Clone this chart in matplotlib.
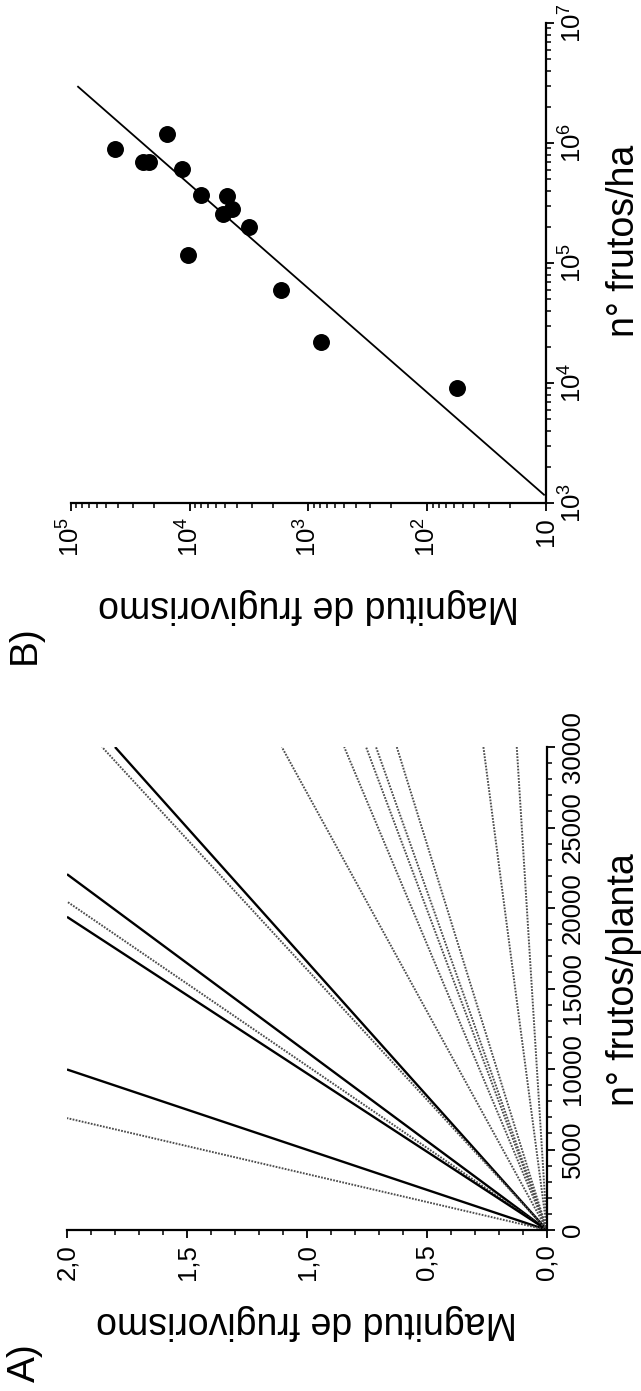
import math
import matplotlib
matplotlib.use('Agg')
import matplotlib.pyplot as plt
from matplotlib.ticker import MultipleLocator, FixedLocator, LogLocator, FuncFormatter, NullFormatter

plt.rcParams['font.family'] = ['Liberation Sans', 'DejaVu Sans']
plt.rcParams['mathtext.default'] = 'regular'

# A) rectas magnitud de frugivorismo vs nº frutos/planta (todas salen del origen)
# punto donde cada recta sale del grafico
a_frutos_fin = [22100, 20400, 19450, 9970, 6950,
                30000, 30000, 30000, 30000, 30000, 30000, 30000, 30000, 30000]
a_magnitud_fin = [2.0, 2.0, 2.0, 2.0, 2.0,
                  1.80, 1.854, 1.105, 0.845, 0.754, 0.7125, 0.626, 0.265, 0.126]
a_estilo = ['solid', 'dotted', 'solid', 'solid', 'dotted',
            'solid', 'dotted', 'dotted', 'dotted', 'dotted', 'dotted', 'dotted', 'dotted', 'dotted']

# B) magnitud de frugivorismo vs nº frutos/ha (log-log)
b_frutos_ha = [893000, 1194000, 690000, 690000, 606700, 367300, 362200,
               280500, 254700, 200400, 117500, 59160, 21830, 9078]
b_magnitud = [42660, 15560, 24550, 21830, 11610, 7960, 4810,
              4405, 5200, 3162, 10330, 1683, 776, 56.6]
b_ajuste_frutos = [1172, 2944000]
b_ajuste_magnitud = [10.4, 86700]

W, H = 641, 1391
fig = plt.figure(figsize=(W / 100, H / 100), dpi=100)

TICK_FS = 18.5
LABEL_FS = 27


def estilo_ejes(ax):
    for s in ['top', 'left']:
        ax.spines[s].set_visible(False)
    for s in ['bottom', 'right']:
        ax.spines[s].set_linewidth(1.6)
    ax.yaxis.tick_right()
    ax.yaxis.set_label_position('right')
    ax.tick_params(which='major', direction='out', length=6, width=1.3,
                   labelsize=TICK_FS, labelrotation=90, pad=4)
    ax.tick_params(which='minor', direction='out', length=3.5, width=1.1)


def fmt_pot(v, p):
    e = int(round(math.log10(v)))
    return '10' if e == 1 else '$10^{%d}$' % e


# ---------- A ----------
axA = fig.add_axes([67 / W, 1 - 1230 / H, 480 / W, 483 / H])
for f_fin, m_fin, est in zip(a_frutos_fin, a_magnitud_fin, a_estilo):
    if est == 'solid':
        axA.plot([0, m_fin], [0, f_fin], color='black', lw=1.7, solid_capstyle='butt')
    else:
        axA.plot([0, m_fin], [0, f_fin], color='0.3', lw=1.4, linestyle=(0, (0.9, 0.7)))
axA.set_xlim(2.0, 0)
axA.set_ylim(0, 30000)
estilo_ejes(axA)
axA.xaxis.set_major_locator(MultipleLocator(0.5))
axA.xaxis.set_minor_locator(MultipleLocator(0.1))
axA.xaxis.set_major_formatter(FuncFormatter(lambda v, p: f'{v:.1f}'.replace('.', ',')))
axA.yaxis.set_major_locator(MultipleLocator(5000))
axA.yaxis.set_minor_locator(MultipleLocator(1000))
axA.yaxis.set_major_formatter(FuncFormatter(lambda v, p: f'{int(v)}'))
plt.setp(axA.get_yticklabels(), va='center')
axA.set_xlabel('Magnitud de frugivorismo', fontsize=LABEL_FS, rotation=180,
               va='center', ha='center')
axA.xaxis.set_label_coords(0.5, -0.19)
axA.set_ylabel('n° frutos/planta', fontsize=LABEL_FS, rotation=90,
               va='center', ha='center')
axA.yaxis.set_label_coords(1.16, 0.518)

# ---------- B ----------
axB = fig.add_axes([70.7 / W, 1 - 503 / H, 475.3 / W, 480 / H])
axB.plot(b_ajuste_magnitud, b_ajuste_frutos, color='black', lw=1.3)
axB.scatter(b_magnitud, b_frutos_ha, s=125, color='black', zorder=3, clip_on=False)
axB.set_xscale('log')
axB.set_yscale('log')
axB.set_xlim(1e5, 10)
axB.set_ylim(1e3, 1e7)
estilo_ejes(axB)
axB.xaxis.set_major_locator(FixedLocator([1e1, 1e2, 1e3, 1e4, 1e5]))
axB.xaxis.set_major_formatter(FuncFormatter(fmt_pot))
axB.xaxis.set_minor_locator(LogLocator(base=10, subs=range(2, 10)))
axB.xaxis.set_minor_formatter(NullFormatter())
axB.yaxis.set_major_locator(FixedLocator([1e3, 1e4, 1e5, 1e6, 1e7]))
axB.yaxis.set_major_formatter(FuncFormatter(fmt_pot))
axB.yaxis.set_minor_locator(LogLocator(base=10, subs=range(2, 10)))
axB.yaxis.set_minor_formatter(NullFormatter())
plt.setp(axB.get_yticklabels(), va='center')
axB.set_xlabel('Magnitud de frugivorismo', fontsize=LABEL_FS, rotation=180,
               va='center', ha='center')
axB.xaxis.set_label_coords(0.5, -0.2146)
axB.set_ylabel('n° frutos/ha', fontsize=LABEL_FS, rotation=90,
               va='center', ha='center')
axB.yaxis.set_label_coords(1.164, 0.546)

fig.text(25 / W, 1 - 1363 / H, 'A)', fontsize=28, rotation=90, ha='center', va='center')
fig.text(25 / W, 1 - 645 / H, 'B)', fontsize=28, rotation=90, ha='center', va='center')

fig.savefig('out.png', dpi=100)
